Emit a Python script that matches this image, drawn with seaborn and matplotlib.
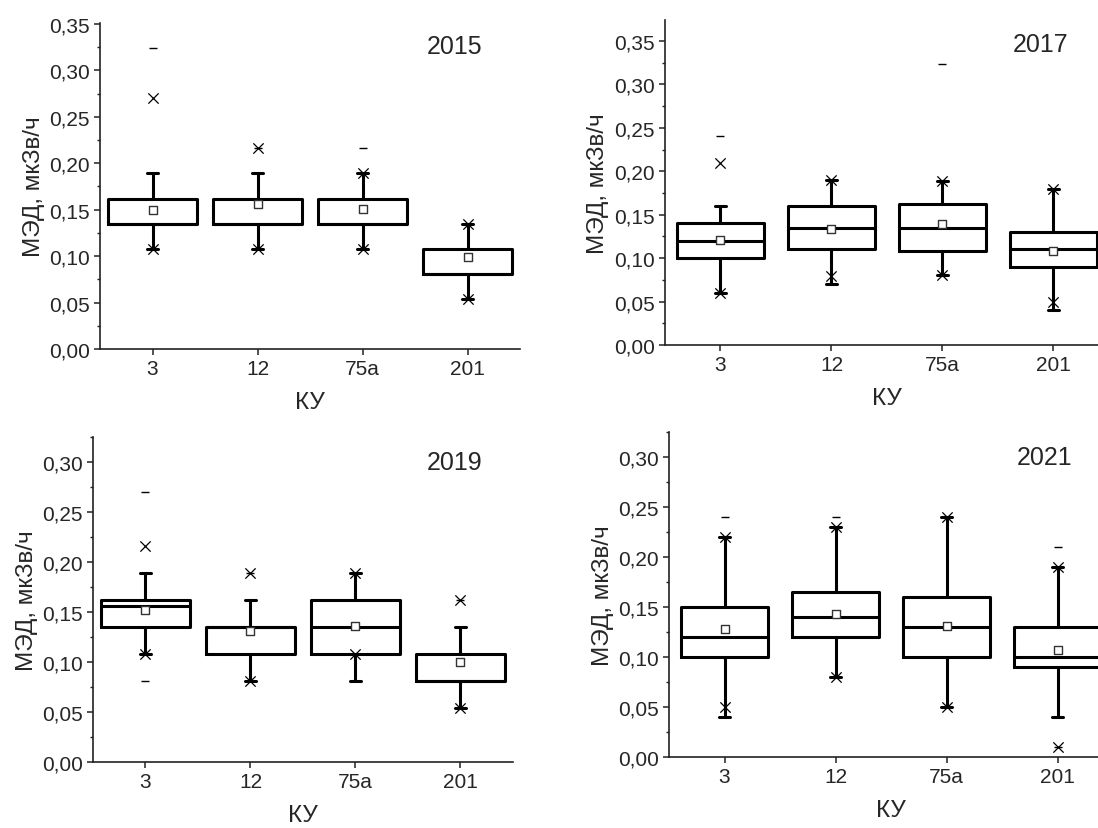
import numpy as np
import pandas as pd
import matplotlib
matplotlib.use('Agg')
import matplotlib.pyplot as plt
from matplotlib.ticker import MultipleLocator, FuncFormatter
import seaborn as sns

categories = ['3', '12', '75a', '201']
years = ['2015', '2017', '2019', '2021']

# квартиль 25% / 75% и медиана
q1 = [[0.135, 0.135, 0.135, 0.081],
      [0.100, 0.110, 0.108, 0.090],
      [0.135, 0.108, 0.108, 0.081],
      [0.100, 0.120, 0.100, 0.090]]
q3 = [[0.162, 0.162, 0.162, 0.108],
      [0.140, 0.160, 0.162, 0.130],
      [0.162, 0.135, 0.162, 0.108],
      [0.150, 0.165, 0.160, 0.130]]
med = [[0.135, 0.135, 0.135, 0.081],
       [0.120, 0.135, 0.135, 0.110],
       [0.156, 0.135, 0.135, 0.081],
       [0.120, 0.140, 0.130, 0.100]]
# среднее
mean = [[0.150, 0.156, 0.151, 0.099],
        [0.121, 0.133, 0.139, 0.108],
        [0.152, 0.131, 0.136, 0.100],
        [0.128, 0.143, 0.131, 0.107]]
# усы
whislo = [[0.108, 0.108, 0.108, 0.054],
          [0.060, 0.070, 0.081, 0.040],
          [0.108, 0.081, 0.081, 0.054],
          [0.040, 0.080, 0.050, 0.040]]
whishi = [[0.189, 0.189, 0.189, 0.135],
          [0.160, 0.190, 0.189, 0.180],
          [0.189, 0.162, 0.189, 0.135],
          [0.220, 0.230, 0.240, 0.190]]
# 1% и 99% (крестики)
p1 = [[0.108, 0.108, 0.108, 0.054],
      [0.060, 0.080, 0.081, 0.050],
      [0.108, 0.081, 0.108, 0.054],
      [0.050, 0.080, 0.050, 0.010]]
p99 = [[0.270, 0.216, 0.189, 0.135],
       [0.210, 0.190, 0.189, 0.180],
       [0.216, 0.189, 0.189, 0.162],
       [0.220, 0.230, 0.240, 0.190]]
# минимум / максимум (черточки)
vmin = [[0.108, 0.108, 0.108, 0.054],
        [0.060, 0.070, 0.081, 0.040],
        [0.081, 0.081, 0.081, 0.054],
        [0.040, 0.080, 0.050, 0.010]]
vmax = [[0.324, 0.216, 0.216, 0.135],
        [0.240, 0.190, 0.324, 0.180],
        [0.270, 0.189, 0.189, 0.162],
        [0.240, 0.240, 0.240, 0.210]]

ylims = [0.351, 0.374, 0.325, 0.325]

sns.set_style('ticks')
plt.rcParams['font.family'] = ['Liberation Sans', 'DejaVu Sans']

fig = plt.figure(figsize=(10.98, 8.29), dpi=100)

# положение осей [left, bottom, width, height]
rects = [[0.0911, 0.5778, 0.3825, 0.3933],
         [0.6056, 0.5826, 0.4044, 0.3920],
         [0.0847, 0.0796, 0.3825, 0.3920],
         [0.6093, 0.0856, 0.4044, 0.3920]]
box_w = [0.84, 0.79, 0.84, 0.79]
year_pos = [(0.845, 0.93), (0.845, 0.926), (0.86, 0.923), (0.845, 0.923)]

fmt = FuncFormatter(lambda v, p: f'{v:.2f}'.replace('.', ','))
lw = 2.2

for i, year in enumerate(years):
    ax = fig.add_axes(rects[i])
    pos = np.arange(len(categories))
    stats = []
    for j in range(len(categories)):
        stats.append(dict(med=med[i][j], q1=q1[i][j], q3=q3[i][j],
                          whislo=whislo[i][j], whishi=whishi[i][j], fliers=[]))
    ax.bxp(stats, positions=pos, widths=box_w[i], capwidths=0.1,
           showfliers=False, manage_ticks=False,
           boxprops=dict(color='black', linewidth=lw),
           medianprops=dict(color='black', linewidth=lw),
           whiskerprops=dict(color='black', linewidth=lw),
           capprops=dict(color='black', linewidth=lw))

    df = pd.DataFrame({'pos': pos, 'mean': mean[i], 'p1': p1[i], 'p99': p99[i],
                       'vmin': vmin[i], 'vmax': vmax[i]})
    sns.scatterplot(data=df, x='pos', y='mean', marker='s', s=32, facecolor='white',
                    edgecolor='#333333', linewidth=1.0, zorder=4, ax=ax)
    for col in ['p1', 'p99']:
        sns.scatterplot(data=df, x='pos', y=col, marker='x', s=55, color='black',
                        linewidth=0.9, zorder=4, ax=ax)
    for col in ['vmin', 'vmax']:
        sns.scatterplot(data=df, x='pos', y=col, marker='_', s=40, color='black',
                        linewidth=1.0, zorder=4, ax=ax)

    ax.set_xlim(-0.5, 3.5)
    ax.set_ylim(0, ylims[i])
    ax.set_xticks(pos)
    ax.set_xticklabels(categories)
    ax.yaxis.set_major_locator(MultipleLocator(0.05))
    ax.yaxis.set_minor_locator(MultipleLocator(0.025))
    ax.yaxis.set_major_formatter(fmt)
    ax.tick_params(axis='both', which='major', direction='out', length=4, width=1.1,
                   labelsize=15, color='#222222')
    ax.tick_params(axis='y', which='minor', direction='out', length=2.5, width=1.0,
                   color='#222222')
    for s in ['left', 'bottom']:
        ax.spines[s].set_linewidth(1.2)
        ax.spines[s].set_color('#222222')
    sns.despine(ax=ax)
    ax.set_xlabel('КУ', fontsize=17.5, labelpad=9)
    ax.set_ylabel('МЭД, мкЗв/ч', fontsize=17.5, labelpad=3)
    ax.text(year_pos[i][0], year_pos[i][1], year, transform=ax.transAxes,
            fontsize=18, ha='center', va='center')

fig.savefig('out.png', dpi=100)
